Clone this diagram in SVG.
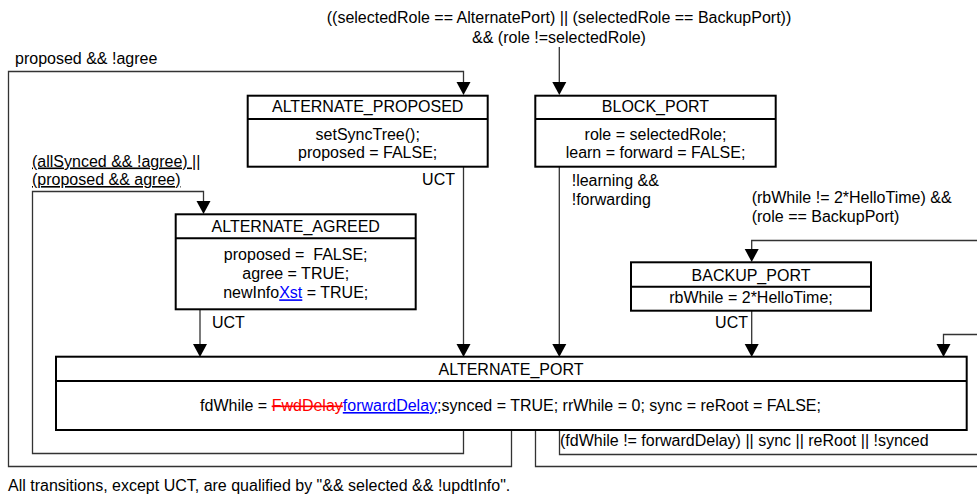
<svg xmlns="http://www.w3.org/2000/svg" width="977" height="495" viewBox="0 0 977 495">
<style>
text{font-family:"Liberation Sans",Arial,sans-serif;font-size:16px;fill:#000}
.c{text-anchor:middle}
.r{text-anchor:end}
.box{fill:#fff;stroke:#000;stroke-width:2}
.div{stroke:#000;stroke-width:2}
.ln{fill:none;stroke:#333;stroke-width:1.3}
.u{text-decoration:underline}
.blue{fill:#0000ff;text-decoration:underline}
.red{fill:#ff0000;text-decoration:line-through}
.ah{fill:#000}
</style>
<g id="connectors">
<line class="ln" x1="559.3" y1="47" x2="559.3" y2="82"/>
<path class="ah" d="M552.3,82 L566.3,82 L559.3,95 Z"/>
<polyline class="ln" points="511.5,431 511.5,466.5 8.5,466.5 8.5,71.5 463.5,71.5 463.5,82"/>
<path class="ah" d="M456.5,82 L470.5,82 L463.5,95 Z"/>
<polyline class="ln" points="463.5,431 463.5,453.5 32.5,453.5 32.5,191.5 203.5,191.5 203.5,201"/>
<path class="ah" d="M196.5,201 L210.5,201 L203.5,214 Z"/>
<line class="ln" x1="463.5" y1="167" x2="463.5" y2="344"/>
<path class="ah" d="M456.5,344 L470.5,344 L463.5,357 Z"/>
<line class="ln" x1="200" y1="310" x2="200" y2="344"/>
<path class="ah" d="M193,344 L207,344 L200,357 Z"/>
<line class="ln" x1="559.3" y1="167" x2="559.3" y2="344"/>
<path class="ah" d="M552.3,344 L566.3,344 L559.3,357 Z"/>
<line class="ln" x1="751.7" y1="311" x2="751.7" y2="344"/>
<path class="ah" d="M744.7,344 L758.7,344 L751.7,357 Z"/>
<polyline class="ln" points="535.5,431 535.5,466.5 977,466.5"/>
<polyline class="ln" points="977,240.5 751.7,240.5 751.7,249"/>
<path class="ah" d="M744.7,249 L758.7,249 L751.7,262 Z"/>
<polyline class="ln" points="559.5,431 559.5,454.5 977,454.5"/>
<polyline class="ln" points="977,334.5 943.5,334.5 943.5,344"/>
<path class="ah" d="M936.5,344 L950.5,344 L943.5,357 Z"/>
</g>
<g id="labels">
<text class="c" x="559" y="23.3">((selectedRole == AlternatePort) || (selectedRole == BackupPort))</text>
<text class="c" x="559" y="42.7">&amp;&amp; (role !=selectedRole)</text>
<text x="15" y="63.5">proposed &amp;&amp; !agree</text>
<text class="u" x="32" y="166.5">(allSynced &amp;&amp; !agree) ||</text>
<text class="u" x="32" y="185">(proposed &amp;&amp; agree)</text>
<text class="r" x="455" y="185">UCT</text>
<text x="571.7" y="186">!learning &amp;&amp;</text>
<text x="571.7" y="204.5">!forwarding</text>
<text x="751.7" y="203">(rbWhile != 2*HelloTime) &amp;&amp;</text>
<text x="751.7" y="221.7">(role == BackupPort)</text>
<text x="212" y="328.3">UCT</text>
<text class="r" x="748" y="328.3">UCT</text>
<text x="560" y="446">(fdWhile != forwardDelay) || sync || reRoot || !synced</text>
<text x="8" y="490.7">All transitions, except UCT, are qualified by "&amp;&amp; selected &amp;&amp; !updtInfo".</text>
</g>
<g id="ALTERNATE_PROPOSED">
<rect class="box" x="247.7" y="95.7" width="240" height="71"/>
<line class="div" x1="247.7" y1="119" x2="487.7" y2="119"/>
<text class="c" x="367.7" y="112">ALTERNATE_PROPOSED</text>
<text class="c" x="367.7" y="139.5">setSyncTree();</text>
<text class="c" x="367.7" y="158">proposed = FALSE;</text>
</g>
<g id="BLOCK_PORT">
<rect class="box" x="535.3" y="95.7" width="240.4" height="71"/>
<line class="div" x1="535.3" y1="119" x2="775.7" y2="119"/>
<text class="c" x="655.5" y="112">BLOCK_PORT</text>
<text class="c" x="655.5" y="139.5">role = selectedRole;</text>
<text class="c" x="655.5" y="158">learn = forward = FALSE;</text>
</g>
<g id="ALTERNATE_AGREED">
<rect class="box" x="175.7" y="214.3" width="240" height="95"/>
<line class="div" x1="175.7" y1="238.3" x2="415.7" y2="238.3"/>
<text class="c" x="295.7" y="231.7">ALTERNATE_AGREED</text>
<text class="c" x="295.7" y="260" xml:space="preserve">proposed =  FALSE;</text>
<text class="c" x="295.7" y="279.3">agree = TRUE;</text>
<text class="c" x="295.7" y="298.3">newInfo<tspan class="blue">Xst</tspan> = TRUE;</text>
</g>
<g id="BACKUP_PORT">
<rect class="box" x="631" y="262.3" width="240" height="48.4"/>
<line class="div" x1="631" y1="286.7" x2="871" y2="286.7"/>
<text class="c" x="751" y="280.7">BACKUP_PORT</text>
<text class="c" x="751" y="303.3">rbWhile = 2*HelloTime;</text>
</g>
<g id="ALTERNATE_PORT">
<rect class="box" x="56" y="356.7" width="910.7" height="73.3"/>
<line class="div" x1="56" y1="381" x2="966.7" y2="381"/>
<text class="c" x="511" y="375">ALTERNATE_PORT</text>
<text class="c" x="510.5" y="411">fdWhile = <tspan class="red">FwdDelay</tspan><tspan class="blue">forwardDelay</tspan>;synced = TRUE; rrWhile = 0; sync = reRoot = FALSE;</text>
</g>
</svg>
